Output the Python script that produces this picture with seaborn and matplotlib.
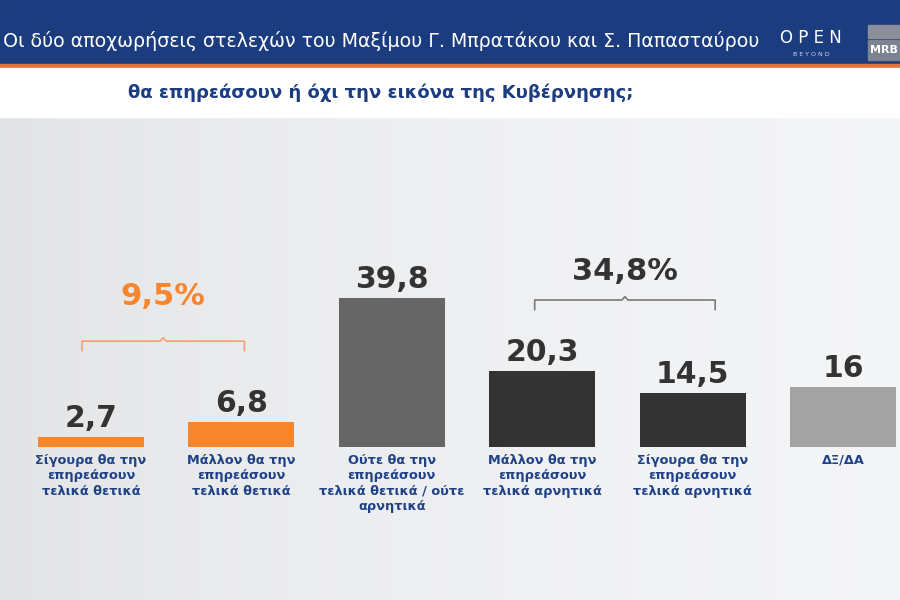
import numpy as np
import pandas as pd
import matplotlib
matplotlib.use("Agg")
import matplotlib.pyplot as plt
from matplotlib.patches import Rectangle
import seaborn as sns

# ---- data ----
categories = [
    "Σίγουρα θα την\nεπηρεάσουν\nτελικά θετικά",
    "Μάλλον θα την\nεπηρεάσουν\nτελικά θετικά",
    "Ούτε θα την\nεπηρεάσουν\nτελικά θετικά / ούτε\nαρνητικά",
    "Μάλλον θα την\nεπηρεάσουν\nτελικά αρνητικά",
    "Σίγουρα θα την\nεπηρεάσουν\nτελικά αρνητικά",
    "ΔΞ/ΔΑ",
]
values = [2.7, 6.8, 39.8, 20.3, 14.5, 16]
bar_colors = ["#F7862F", "#F7862F", "#666666", "#333333", "#333333", "#A3A3A3"]
title = "Οι δύο αποχωρήσεις στελεχών του Μαξίμου Γ. Μπρατάκου και Σ. Παπασταύρου"
subtitle = "θα επηρεάσουν ή όχι την εικόνα της Κυβέρνησης;"
groups = [(0, 1), (3, 4)]
group_colors = ["#F7862F", "#333333"]
bracket_colors = ["#F2A272", "#7a7a7a"]

def fmt(v):
    s = f"{v:.0f}" if float(v).is_integer() else f"{v:.1f}"
    return s.replace(".", ",")

sns.set_theme(style="white")
plt.rcParams["font.family"] = ["DejaVu Sans"]

W, H = 900, 600
fig = plt.figure(figsize=(9, 6), dpi=100)

# background gradient
bg = fig.add_axes([0, 0, 1, 1])
bg.set_axis_off()
gx = np.linspace(0, 1, 256)
grad = 0.885 + 0.075 * gx[None, :] ** 0.6 + np.zeros((128, 1))
img = np.clip(np.dstack([grad, grad + 0.003, grad + 0.008]), 0, 1)
bg.imshow(img, extent=[0, W, 0, H], aspect="auto", origin="lower")
bg.set_xlim(0, W); bg.set_ylim(0, H)
# header
bg.add_patch(Rectangle((0, H - 64), W, 64, color="#1B3C7E", zorder=2))
bg.add_patch(Rectangle((0, H - 68), W, 4, color="#E8703A", zorder=2))
bg.add_patch(Rectangle((0, H - 117), W, 49, color="#FFFFFF", zorder=2))
bg.text(3, H - 41, title, color="white", fontsize=13.7, ha="left", va="center", zorder=3)
bg.text(381, H - 93, subtitle, color="#1B3C7E", fontsize=13, fontweight="bold",
        ha="center", va="center", zorder=3)
# OPEN logo
bg.text(811, H - 38, "O P E N", color="white", fontsize=12, ha="center", va="center", zorder=3)
bg.text(811, H - 54, "B E Y O N D", color="#cfd8ea", fontsize=4.5, ha="center", va="center", zorder=3)
# MRB logo
bg.add_patch(Rectangle((868, H - 38), 32, 13, color="#8a8f99", zorder=3))
bg.add_patch(Rectangle((868, H - 60), 32, 20, color="#7d8390", zorder=3))
bg.text(884, H - 50, "MRB", color="white", fontsize=8, fontweight="bold", ha="center", va="center", zorder=4)

# ---- bar axes ----
px_per_unit = 3.74
base_px = 447
ax_h = 327
ax = fig.add_axes([0, (H - base_px) / H, 1, ax_h / H])
ax.set_facecolor("none")
df = pd.DataFrame({"cat": categories, "val": values})
sns.barplot(data=df, x="cat", y="val", hue="cat", palette=bar_colors, order=categories,
            hue_order=categories, width=0.705, legend=False, ax=ax, saturation=1,
            linewidth=0, edgecolor="none")
spacing = 150.4
ax.set_xlim(-91 / spacing, (W - 91) / spacing)
ax.set_ylim(0, ax_h / px_per_unit)
ax.set_xlabel(""); ax.set_ylabel("")
ax.set_yticks([])
for s in ax.spines.values():
    s.set_visible(False)
ax.tick_params(axis="x", length=0, pad=5)
for lab in ax.get_xticklabels():
    lab.set_color("#1F4287")
    lab.set_fontweight("bold")
    lab.set_fontsize(9.3)
    lab.set_linespacing(1.25)
    lab.set_va("top")

for i, v in enumerate(values):
    ax.text(i, v + 10 / px_per_unit, fmt(v), ha="center", va="baseline",
            fontsize=21.5, fontweight="heavy", color="#333333")

# brackets with group sums
bracket_x = [(-0.06, 1.02), (2.95, 4.15)]
bracket_y = [28.3, 39.3]
label_y = [38.0, 44.7]
for (g, col, bcol, (xa, xb), by, ly) in zip(groups, group_colors, bracket_colors, bracket_x, bracket_y, label_y):
    drop = 2.6
    xm = (xa + xb) / 2
    ax.plot([xa, xa, xm - 0.02, xm, xm + 0.02, xb, xb],
            [by - drop, by, by, by + 0.9, by, by, by - drop], color=bcol, lw=1.2)
    total = sum(values[k] for k in range(g[0], g[1] + 1))
    ax.text(xm, ly, fmt(round(total, 1)) + "%", ha="center", va="baseline",
            fontsize=22, fontweight="heavy", color=col)

fig.savefig("out.png", dpi=100)
